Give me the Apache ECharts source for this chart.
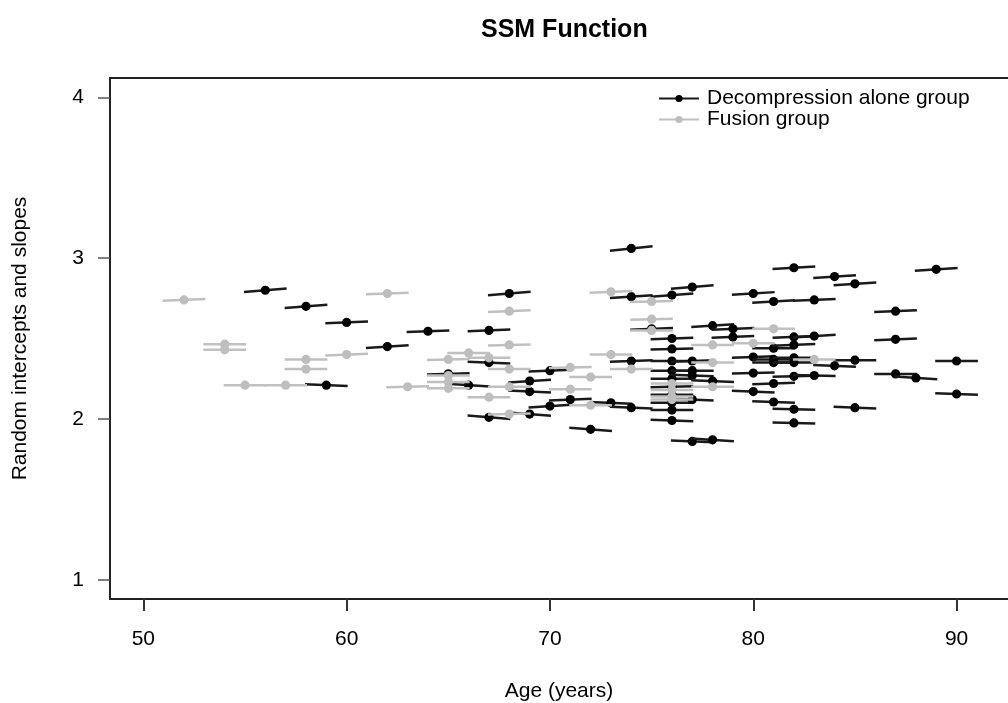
<!DOCTYPE html>
<html>
<head>
<meta charset="utf-8">
<script src="https://cdn.jsdelivr.net/npm/echarts@6/dist/echarts.min.js"></script>
<style>html,body{margin:0;padding:0;background:#fff;overflow:hidden}#c{width:1008px;height:703px}</style>
</head>
<body>
<div id="c"></div>
<script>
// ---- Data ----
const xTicks = [50, 60, 70, 80, 90];
const yTicks = [1, 2, 3, 4];

// Decompression alone group: age, random intercept, random slope (per year)
const decAge = [56, 58, 59, 60, 62, 64, 65, 66, 67, 67, 67, 68, 69, 69, 69, 70, 70, 71, 72, 73,
  74, 74, 74, 74, 75, 76, 76, 76, 76, 76, 76, 76, 76, 76, 76, 76,
  77, 77, 77, 77, 77, 77, 78, 78, 78, 79, 79, 80, 80, 80, 80,
  81, 81, 81, 81, 81, 81, 82, 82, 82, 82, 82, 82, 82, 82,
  83, 83, 83, 84, 84, 85, 85, 85, 87, 87, 87, 88, 89, 90, 90];
const decIntercept = [2.80, 2.70, 2.21, 2.60, 2.45, 2.545, 2.28, 2.21, 2.55, 2.35, 2.01, 2.78, 2.235, 2.17, 2.03, 2.30, 2.08, 2.12, 1.935, 2.10,
  3.06, 2.76, 2.36, 2.07, 2.56, 2.77, 2.50, 2.435, 2.36, 2.30, 2.25, 2.20, 2.15, 2.10, 2.055, 1.99,
  2.82, 2.36, 2.30, 2.27, 2.12, 1.86, 2.58, 2.235, 1.87, 2.56, 2.51, 2.78, 2.385, 2.285, 2.17,
  2.73, 2.44, 2.37, 2.35, 2.22, 2.105, 2.94, 2.51, 2.46, 2.38, 2.35, 2.265, 2.06, 1.975,
  2.74, 2.515, 2.27, 2.885, 2.33, 2.84, 2.365, 2.07, 2.67, 2.495, 2.28, 2.255, 2.93, 2.36, 2.155];
const decSlope = [0.010, 0.010, -0.005, 0.005, 0.008, 0.005, 0.003, -0.008, 0.005, -0.005, -0.010, 0.010, 0.008, -0.006, -0.010, 0.005, 0.008, 0.005, -0.010, -0.005,
  0.013, 0.008, 0.005, -0.005, 0.005, 0.010, 0.005, 0.003, 0.000, 0.000, 0.000, 0.003, 0.000, 0.000, 0.000, -0.005,
  0.010, 0.005, 0.000, -0.005, -0.005, -0.005, 0.008, -0.005, -0.008, 0.005, 0.005, 0.008, 0.005, 0.003, -0.005,
  0.008, 0.000, 0.000, 0.000, 0.005, -0.005, 0.008, 0.005, 0.005, 0.000, 0.000, 0.003, -0.003, -0.003,
  0.005, 0.008, -0.003, 0.008, -0.005, 0.008, 0.000, -0.005, 0.005, 0.005, 0.000, -0.008, 0.008, 0.000, -0.005];

// Fusion group
const fusAge = [52, 54, 54, 55, 57, 58, 58, 60, 62, 63, 65, 65, 65, 65, 66, 67, 67, 68, 68, 68, 68, 68,
  71, 71, 72, 72, 73, 73, 74, 75, 75, 75, 76, 76, 76, 76, 78, 78, 78, 80, 81, 83];
const fusIntercept = [2.74, 2.465, 2.43, 2.21, 2.21, 2.37, 2.31, 2.40, 2.78, 2.20, 2.37, 2.27, 2.23, 2.19, 2.41, 2.38, 2.135, 2.67, 2.46, 2.31, 2.20, 2.03,
  2.32, 2.185, 2.26, 2.085, 2.79, 2.40, 2.31, 2.73, 2.62, 2.55, 2.22, 2.18, 2.14, 2.12, 2.46, 2.35, 2.20, 2.47, 2.56, 2.37];
const fusSlope = [0.005, 0.000, 0.000, 0.000, 0.000, 0.000, 0.000, 0.005, 0.005, 0.003, 0.003, 0.000, 0.000, 0.000, 0.000, 0.000, 0.000, 0.005, 0.003, 0.000, 0.000, 0.003,
  0.003, 0.000, 0.000, 0.000, 0.005, 0.000, 0.000, 0.003, 0.003, 0.000, 0.000, 0.000, 0.000, 0.000, 0.000, 0.000, 0.000, 0.000, 0.000, 0.000];

// ---- Chart ----
const HALF = 1.05; // half-length of each slope segment, in years
const FONT = '"Liberation Sans", Arial, Helvetica, sans-serif';
const BLACK = '#000000', BLACK_LINE = '#1a1a1a';
const GRAY = '#bebebe', GRAY_LINE = '#c0c0c0';
const X_MIN = 48.36, X_MAX = 92.53;

function render(dotColor, lineColor) {
  return function (params, api) {
    const a = api.value(0), y = api.value(1), s = api.value(2);
    const p1 = api.coord([a - HALF, y - HALF * s]);
    const p2 = api.coord([a + HALF, y + HALF * s]);
    const c = api.coord([a, y]);
    return {
      type: 'group',
      children: [
        { type: 'line', shape: { x1: p1[0], y1: p1[1], x2: p2[0], y2: p2[1] },
          style: { stroke: lineColor, lineWidth: 2.5 } },
        { type: 'circle', shape: { cx: c[0], cy: c[1], r: 4.6 }, style: { fill: dotColor } }
      ]
    };
  };
}

const chart = echarts.init(document.getElementById('c'), null, { renderer: 'canvas' });
chart.setOption({
  animation: false,
  backgroundColor: '#fff',
  textStyle: { fontFamily: FONT },
  title: {
    text: 'SSM Function', left: 476, top: 13,
    textStyle: { fontFamily: FONT, fontSize: 25, fontWeight: 'bold', color: '#000' }
  },
  legend: {
    orient: 'vertical', left: 658, top: 88, padding: 0,
    itemWidth: 40, itemHeight: 9, itemGap: 0,
    data: ['Decompression alone group', 'Fusion group'],
    textStyle: { fontFamily: FONT, fontSize: 21, color: '#000', lineHeight: 20, padding: [0, 0, 0, 3] },
    selectedMode: false
  },
  grid: { left: 110, right: 0, top: 78, bottom: 104, show: false, containLabel: false, outerBoundsMode: 'none' },
  xAxis: [{
    type: 'value', min: X_MIN, max: X_MAX, position: 'bottom',
    name: 'Age (years)', nameLocation: 'middle', nameGap: 82,
    nameTextStyle: { fontFamily: FONT, fontSize: 21, color: '#000' },
    axisLine: { show: true, onZero: false, lineStyle: { color: '#222', width: 2 } },
    axisTick: { show: true, length: 12, customValues: xTicks, lineStyle: { color: '#333', width: 2 } },
    axisLabel: { customValues: xTicks, margin: 30, fontFamily: FONT, fontSize: 21, color: '#000' },
    splitLine: { show: false }
  }, {
    type: 'value', min: X_MIN, max: X_MAX, position: 'top',
    axisLine: { show: true, onZero: false, lineStyle: { color: '#222', width: 2 } },
    axisTick: { show: false }, axisLabel: { show: false }, splitLine: { show: false }
  }],
  yAxis: {
    type: 'value', min: 0.88, max: 4.12,
    name: 'Random intercepts and slopes', nameLocation: 'middle', nameGap: 79, nameRotate: 90,
    nameTextStyle: { fontFamily: FONT, fontSize: 21, color: '#000' },
    axisLine: { show: true, onZero: false, lineStyle: { color: '#222', width: 2 } },
    axisTick: { show: true, length: 12, customValues: yTicks, lineStyle: { color: '#555', width: 1.5 } },
    axisLabel: { customValues: yTicks, margin: 26, fontFamily: FONT, fontSize: 21, color: '#000' },
    splitLine: { show: false }
  },
  series: [
    {
      type: 'custom', name: 'dec', renderItem: render(BLACK, BLACK_LINE), clip: true,
      encode: { x: 0, y: 1 },
      data: decAge.map((a, i) => [a, decIntercept[i], decSlope[i]])
    },
    {
      type: 'custom', name: 'fus', renderItem: render(GRAY, GRAY_LINE), clip: true,
      encode: { x: 0, y: 1 },
      data: fusAge.map((a, i) => [a, fusIntercept[i], fusSlope[i]])
    },
    { type: 'line', name: 'Decompression alone group', data: [], symbol: 'circle', symbolSize: 7,
      itemStyle: { color: BLACK }, lineStyle: { color: BLACK_LINE, width: 2 } },
    { type: 'line', name: 'Fusion group', data: [], symbol: 'circle', symbolSize: 7,
      itemStyle: { color: GRAY }, lineStyle: { color: GRAY_LINE, width: 2 } }
  ]
});
</script>
</body>
</html>
